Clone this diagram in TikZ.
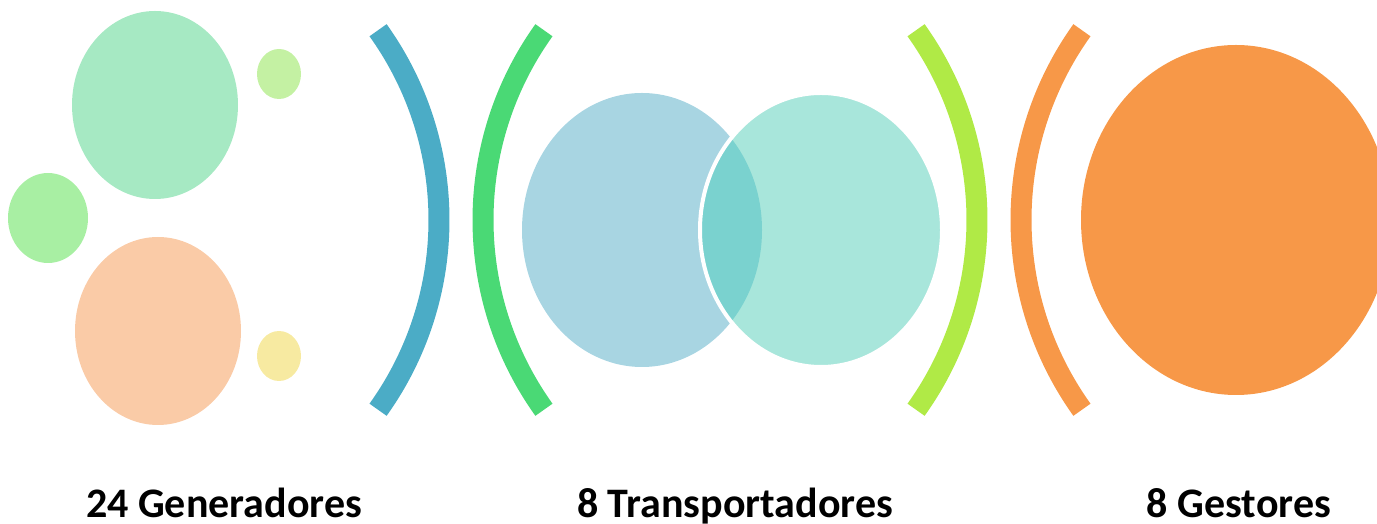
\documentclass[tikz,border=0pt]{standalone}
\usepackage{fontspec}
\setmainfont{Carlito}
\usetikzlibrary{positioning}

\definecolor{genGreen}{HTML}{A6E9C3}
\definecolor{genLime}{HTML}{C4F1A3}
\definecolor{genMint}{HTML}{A8EFA3}
\definecolor{genPeach}{HTML}{FACBA7}
\definecolor{genYellow}{HTML}{F7EAA1}
\definecolor{traBlue}{HTML}{A8D5E2}
\definecolor{traTeal}{HTML}{A8E6DB}
\definecolor{traBoth}{HTML}{7AD2CF}
\definecolor{gesOrange}{HTML}{F79848}
\definecolor{arcBlue}{HTML}{4BACC6}
\definecolor{arcGreen}{HTML}{4AD975}
\definecolor{arcLime}{HTML}{B0EA46}
\definecolor{arcOrange}{HTML}{F79848}

\begin{document}
\begin{tikzpicture}[x=1pt,y=1pt,
      bracket/.style={line width=21pt},
      label text/.style={font=\fontsize{42}{48}\selectfont\bfseries,anchor=base,inner sep=0pt}]
    \useasboundingbox (0,0) rectangle (1377,524);
    \clip (0,0) rectangle (1377,524);

      % generadores
      \foreach \x/\y/\rx/\ry/\col in {155/419/83/94/genGreen, 279/450/22/25/genLime,
	  48/306/40/45/genMint, 158/193/83/94/genPeach, 279/168/22/25/genYellow}
	\fill[\col] (\x,\y) ellipse [x radius=\rx, y radius=\ry];

      % transportadores
      \fill[traBlue] (642,294) ellipse [x radius=120, y radius=137];
      \fill[traTeal] (821,294) ellipse [x radius=121, y radius=137];
      \begin{scope}
	\clip (642,294) ellipse [x radius=120, y radius=137];
	\fill[traBoth] (821,294) ellipse [x radius=121, y radius=137];
      \end{scope}
      \draw[white,line width=4pt] (821,294) ellipse [x radius=121, y radius=137];

      % gestores
      \fill[gesOrange] (1236,304) ellipse [x radius=155, y radius=175];

      % parentesis
      \foreach \cx/\a/\b/\col in {113/35.6/-35.6/arcBlue, 809/144.4/215.6/arcGreen,
	  651/35.6/-35.6/arcLime, 1347/144.4/215.6/arcOrange}
	\draw[bracket,\col] (\cx,304) ++(\a:326) arc [start angle=\a, end angle=\b, radius=326];

      \node[label text] (generadores) at (224,6) {24 Generadores};
      \node[label text] (transportadores) at (735,6) {8 Transportadores};
      \node[label text] (gestores) at (1239,6) {8 Gestores};
    
    \end{tikzpicture}
\end{document}
